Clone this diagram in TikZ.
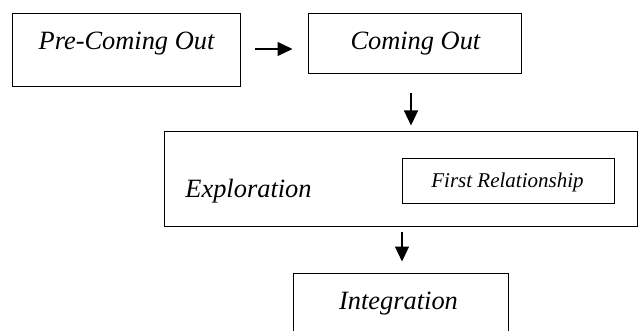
\documentclass[tikz,border=0pt]{standalone}
\usepackage{fontspec}
\setmainfont{Liberation Serif}
\usetikzlibrary{arrows.meta}
\tikzset{
  box/.style={draw, line width=1pt, inner sep=0pt, rectangle},
  lbl/.style={anchor=base, inner sep=0pt, font=\fontsize{26.4}{30}\selectfont\itshape},
  smalllbl/.style={anchor=base, inner sep=0pt, font=\fontsize{21}{24}\selectfont\itshape},
  arr/.style={line width=1.1pt, -{Triangle[length=15pt,width=14pt]}}
}
\begin{document}
\begin{tikzpicture}[x=1pt,y=-1pt]
\useasboundingbox (0,0) rectangle (639,331);
\clip (0,0) rectangle (639,331);
\node[box, minimum width=228pt, minimum height=73pt] (b1) at (126.7,50.5) {};
\node[box, minimum width=213pt, minimum height=60pt] (b2) at (414.5,44) {};
\node[box, minimum width=473pt, minimum height=94.5pt] (ex) at (400.5,178.75) {};
\node[box, minimum width=212pt, minimum height=44pt] (fr) at (508,181) {};
\node[box, minimum width=215pt, minimum height=77pt] (int) at (400.5,311.5) {};
\node[lbl] (t1) at (126.5,50) {Pre-Coming Out};
\node[lbl] (t2) at (415.4,49.3) {Coming Out};
\node[lbl] (t3) at (248.5,197) {Exploration};
\node[smalllbl] (t4) at (507.5,187) {First Relationship};
\node[lbl] (t5) at (398.5,309) {Integration};
\coordinate (a1s) at ([xshift=14pt,yshift=1.5pt]b1.east);
\coordinate (a1e) at ([xshift=-15pt]b2.west);
\draw[arr] (a1s) -- (a1e |- a1s);
\coordinate (a2s) at ([xshift=-3.5pt,yshift=-19pt]b2.south);
\coordinate (a2e) at ([yshift=5.5pt]ex.north);
\draw[arr] (a2s) -- (a2s |- a2e);
\coordinate (a3s) at ([xshift=1.5pt,yshift=-5pt]ex.south);
\coordinate (a3e) at ([yshift=11pt]int.north);
\draw[arr] (a3s) -- (a3s |- a3e);
\end{tikzpicture}
\end{document}
